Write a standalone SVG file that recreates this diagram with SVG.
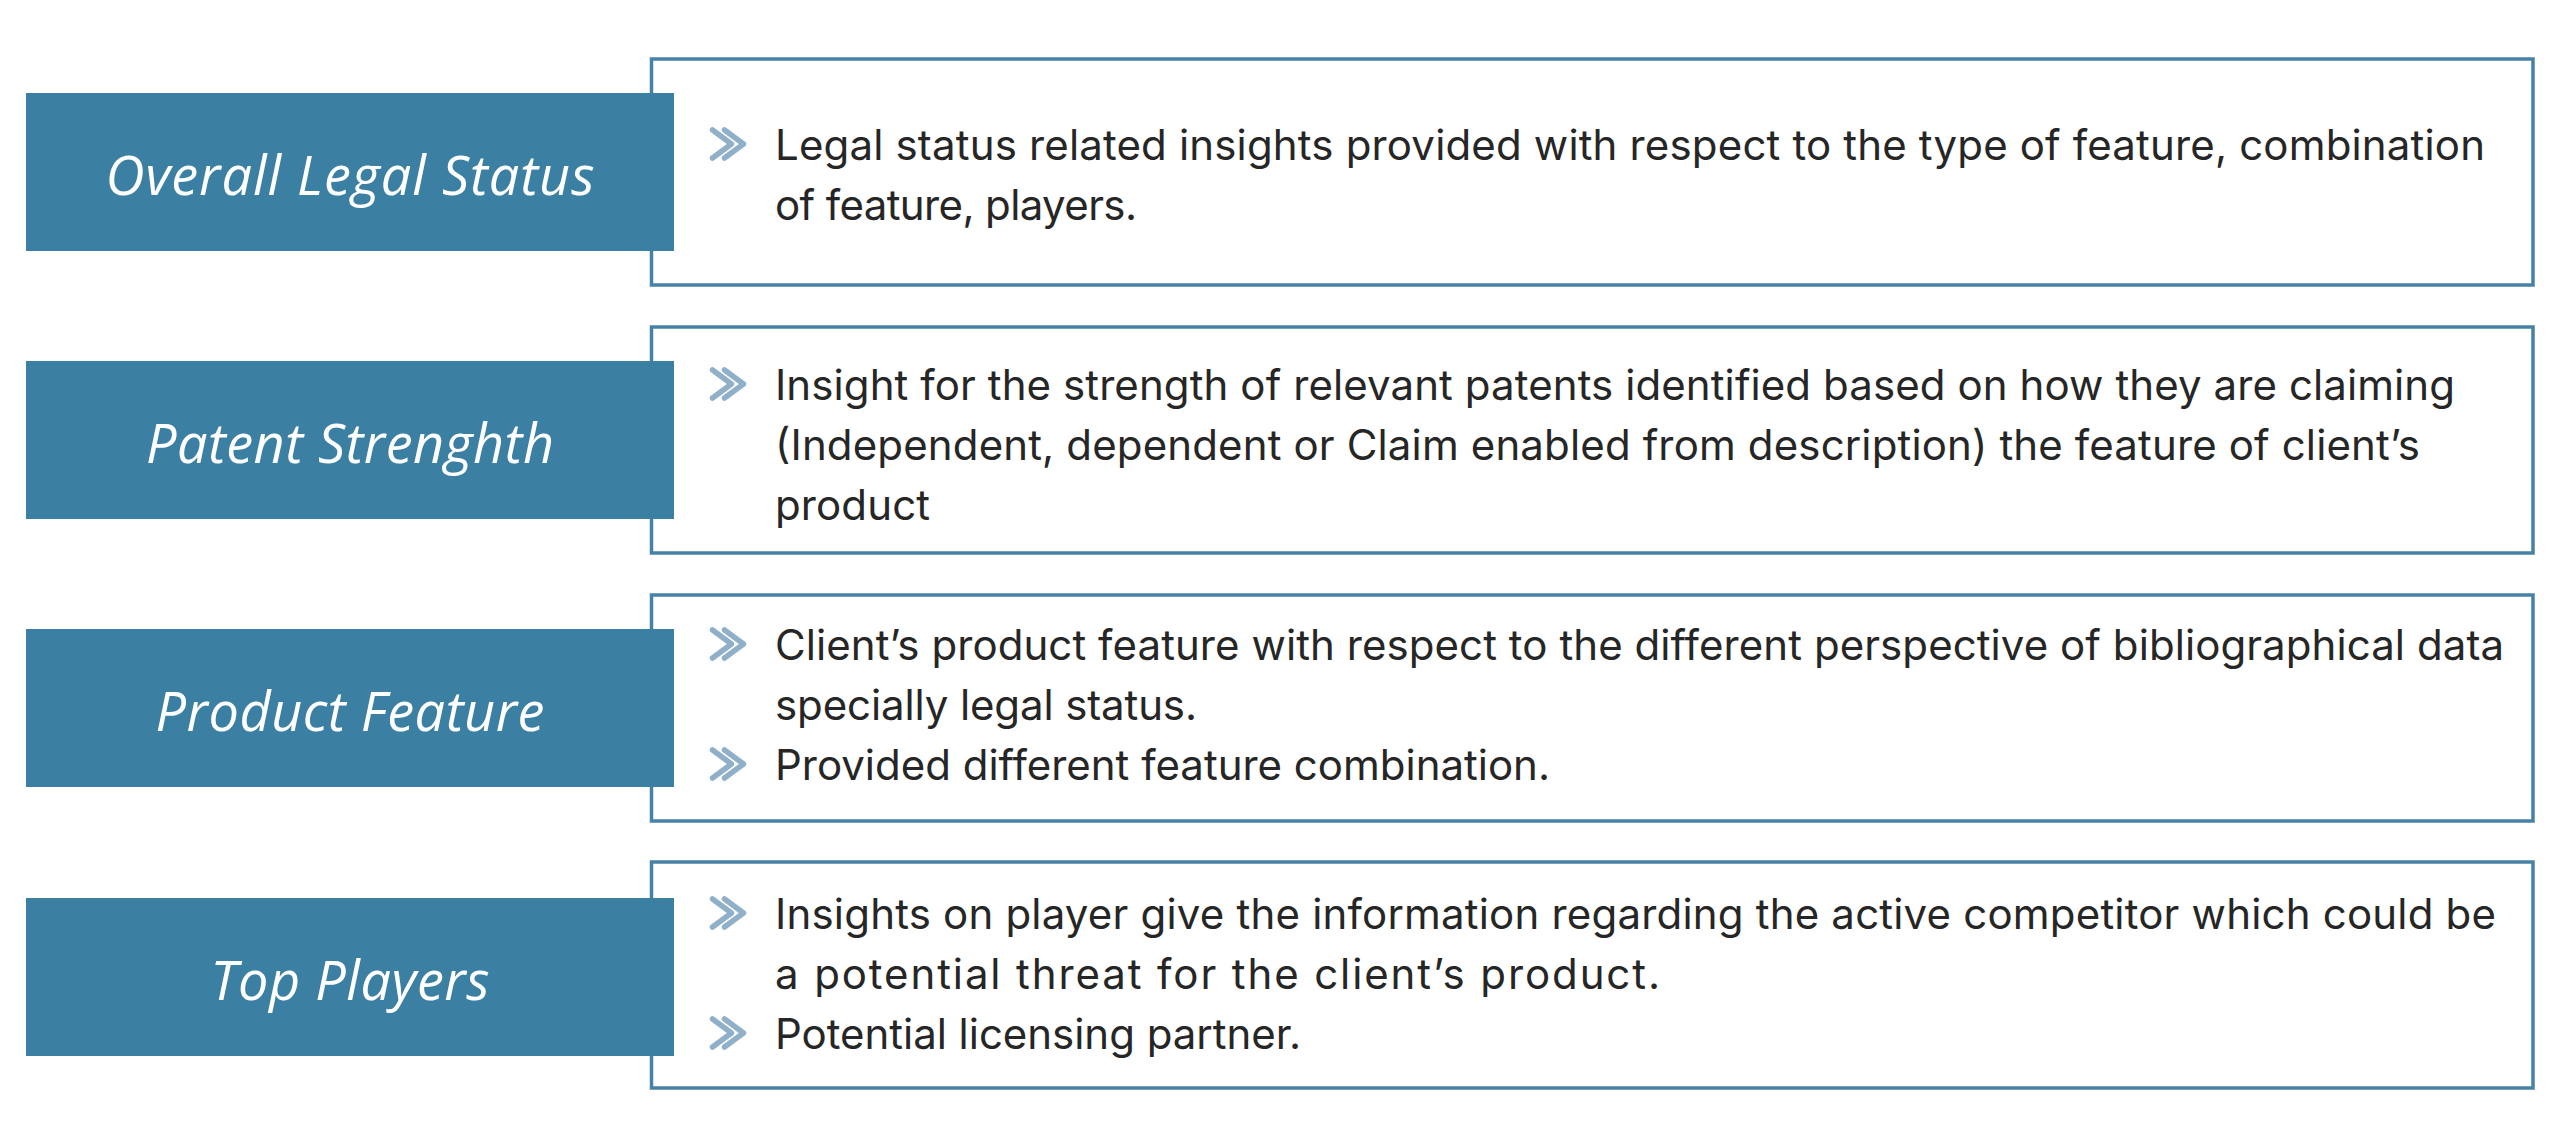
<svg xmlns="http://www.w3.org/2000/svg" xmlns:xlink="http://www.w3.org/1999/xlink" width="2560" height="1148" viewBox="0 0 2560 1148">
<style>
.outline{fill:#ffffff;stroke:#4782a6;stroke-width:3.5}
.head{fill:#3b80a3}
.title{font-family:"Open Sans","Lato",sans-serif;font-style:italic;font-size:54px;fill:#ffffff;text-anchor:middle}
.body{font-family:"Inter","Open Sans",sans-serif;font-size:42px;fill:#262626}
</style>
<defs>
<path id="chev" d="M0,0 L19,14 L0,28 M12,0 L31,14 L12,28" fill="none" stroke="#8fb0c8" stroke-width="5.5" stroke-linecap="round" stroke-linejoin="round"/>
</defs>
<rect width="2560" height="1148" fill="#ffffff"/>

<g id="row1">
<rect class="outline" x="651.5" y="59" width="1881.5" height="226"/>
<rect class="head" x="26" y="93" width="648" height="158"/>
<text class="title" x="350" y="195" textLength="489" lengthAdjust="spacing">Overall Legal Status</text>
<use xlink:href="#chev" transform="translate(712.5,130)"/>
<text class="body" x="775" y="160" textLength="1710" lengthAdjust="spacing">Legal status related insights provided with respect to the type of feature, combination</text>
<text class="body" x="775" y="220" textLength="362" lengthAdjust="spacing">of feature, players.</text>
</g>

<g id="row2">
<rect class="outline" x="651.5" y="327" width="1881.5" height="226"/>
<rect class="head" x="26" y="361" width="648" height="158"/>
<text class="title" x="350" y="463" textLength="408" lengthAdjust="spacing">Patent Strenghth</text>
<use xlink:href="#chev" transform="translate(712.5,370)"/>
<text class="body" x="775" y="400" textLength="1680" lengthAdjust="spacing">Insight for the strength of relevant patents identified based on how they are claiming</text>
<text class="body" x="775" y="460" textLength="1645" lengthAdjust="spacing">(Independent, dependent or Claim enabled from description) the feature of client’s</text>
<text class="body" x="775" y="520" textLength="155" lengthAdjust="spacing">product</text>
</g>

<g id="row3">
<rect class="outline" x="651.5" y="595" width="1881.5" height="226"/>
<rect class="head" x="26" y="629" width="648" height="158"/>
<text class="title" x="350" y="731" textLength="389" lengthAdjust="spacing">Product Feature</text>
<use xlink:href="#chev" transform="translate(712.5,630)"/>
<text class="body" x="775" y="660" textLength="1729" lengthAdjust="spacing">Client’s product feature with respect to the different perspective of bibliographical data</text>
<text class="body" x="775" y="720" textLength="422" lengthAdjust="spacing">specially legal status.</text>
<use xlink:href="#chev" transform="translate(712.5,750)"/>
<text class="body" x="775" y="780" textLength="775" lengthAdjust="spacing">Provided different feature combination.</text>
</g>

<g id="row4">
<rect class="outline" x="651.5" y="862" width="1881.5" height="226"/>
<rect class="head" x="26" y="898" width="648" height="158"/>
<text class="title" x="350" y="1000" textLength="279" lengthAdjust="spacing">Top Players</text>
<use xlink:href="#chev" transform="translate(712.5,899)"/>
<text class="body" x="775" y="929" textLength="1721" lengthAdjust="spacing">Insights on player give the information regarding the active competitor which could be</text>
<text class="body" x="775" y="989" textLength="885" lengthAdjust="spacing">a potential threat for the client’s product.</text>
<use xlink:href="#chev" transform="translate(712.5,1019)"/>
<text class="body" x="775" y="1049" textLength="526" lengthAdjust="spacing">Potential licensing partner.</text>
</g>

<g id="connectors"/>
</svg>
